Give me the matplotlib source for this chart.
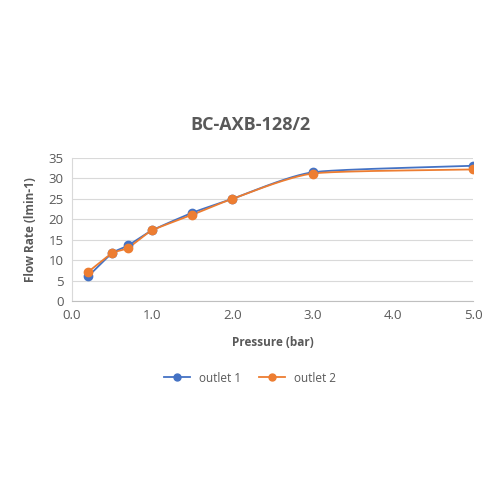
import numpy as np
import matplotlib.pyplot as plt
from matplotlib.lines import Line2D

pressure = [0.2, 0.5, 0.7, 1.0, 1.5, 2.0, 3.0, 5.0]
outlet1 = [6.0, 11.7, 13.6, 17.3, 21.6, 25.0, 31.5, 33.1]
outlet2 = [7.1, 11.7, 13.0, 17.3, 21.1, 25.0, 31.2, 32.2]

blue = "#4472C4"
orange = "#ED7D31"
grey_txt = "#595959"


def smooth(x, y, n=30):
    # excel-like smoothed line (catmull-rom through the points)
    x = np.asarray(x, float)
    y = np.asarray(y, float)
    px = np.concatenate([[2 * x[0] - x[1]], x, [2 * x[-1] - x[-2]]])
    py = np.concatenate([[2 * y[0] - y[1]], y, [2 * y[-1] - y[-2]]])
    xs, ys = [], []
    t = np.linspace(0, 1, n)
    for i in range(1, len(px) - 2):
        for p, out in ((px, xs), (py, ys)):
            p0, p1, p2, p3 = p[i - 1], p[i], p[i + 1], p[i + 2]
            m1 = (p2 - p0) / 2 * 0.6
            m2 = (p3 - p1) / 2 * 0.6
            h00 = 2 * t**3 - 3 * t**2 + 1
            h10 = t**3 - 2 * t**2 + t
            h01 = -2 * t**3 + 3 * t**2
            h11 = t**3 - t**2
            out.extend(h00 * p1 + h10 * m1 + h01 * p2 + h11 * m2)
    return np.array(xs), np.array(ys)


plt.rcParams['font.family'] = ['Open Sans', 'DejaVu Sans']

fig = plt.figure(figsize=(5, 5), dpi=100)
ax = fig.add_axes([0.144, 0.398, 0.802, 0.286])

for y, c in ((outlet1, blue), (outlet2, orange)):
    sx, sy = smooth(pressure, y)
    ax.plot(sx, sy, color=c, lw=1.3, zorder=3)
    ax.plot(pressure, y, 'o', color=c, ms=6, zorder=4)

ax.set_xlim(0, 5)
ax.set_ylim(0, 35)
ax.set_xticks(np.arange(0, 5.01, 1.0))
ax.set_xticklabels([f"{v:.1f}" for v in np.arange(0, 5.01, 1.0)])
ax.set_yticks(np.arange(0, 36, 5))
ax.grid(axis='y', color="#D9D9D9", lw=0.8)
ax.set_axisbelow(True)
for s in ['top', 'right']:
    ax.spines[s].set_visible(False)
ax.spines['bottom'].set_color("#BFBFBF")
ax.spines['left'].set_color("#D9D9D9")
ax.tick_params(length=0, colors=grey_txt, labelsize=9.5, pad=6)

fig.text(0.5, 0.75, "BC-AXB-128/2", fontsize=13, fontweight='bold', color=grey_txt,
         ha='center', va='center')
ax.set_xlabel("Pressure (bar)", fontsize=8.5, fontweight='bold', color=grey_txt, labelpad=10)
ax.set_ylabel("Flow Rate (lmin-1)", fontsize=8.5, fontweight='bold', color=grey_txt, labelpad=8)

handles = [Line2D([], [], color=blue, marker='o', ms=5, lw=1.3),
           Line2D([], [], color=orange, marker='o', ms=5, lw=1.3)]
fig.legend(handles, ["outlet 1", "outlet 2"], loc='center', bbox_to_anchor=(0.5, 0.244),
           ncol=2, frameon=False, fontsize=8.5, labelcolor=grey_txt, handlelength=2.2,
           columnspacing=1.5)

fig.savefig("out.png", dpi=100, facecolor='white')
